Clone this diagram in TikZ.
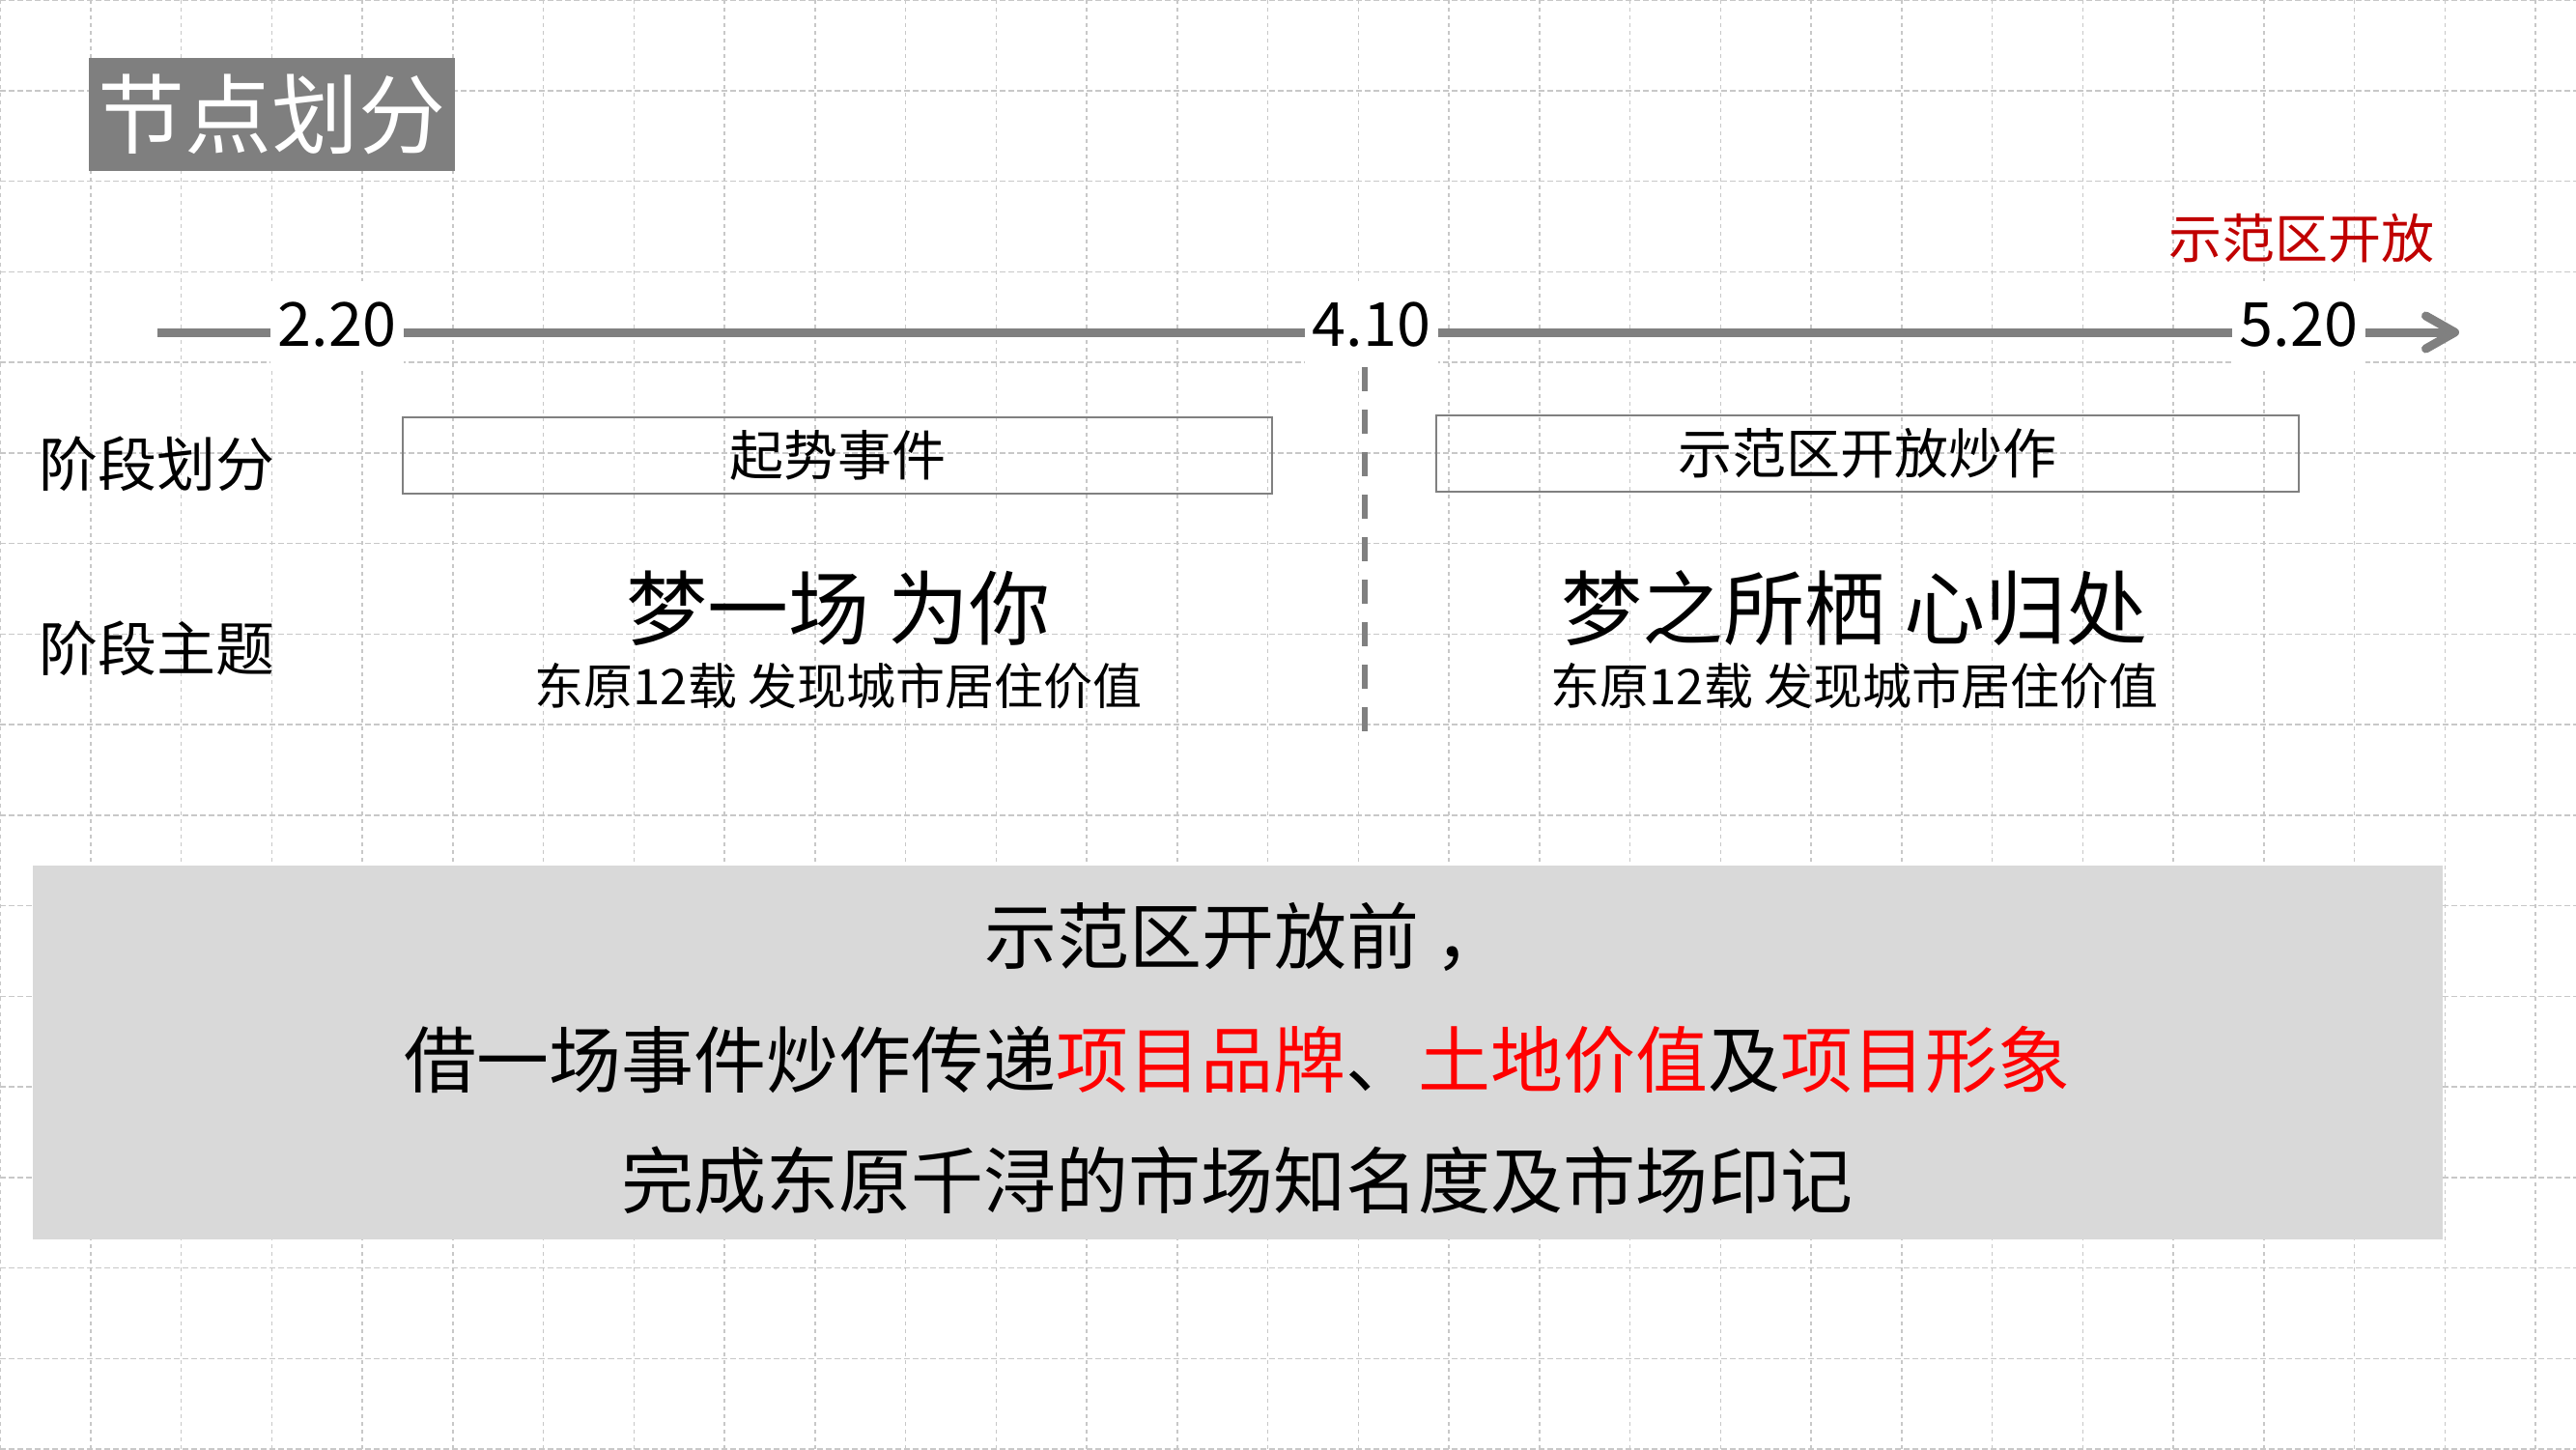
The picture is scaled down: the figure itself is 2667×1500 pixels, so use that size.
\documentclass[tikz,border=0pt]{standalone}
\usepackage{fontspec}
\setmainfont{Noto Sans CJK SC}
\usetikzlibrary{arrows.meta}
\definecolor{gridc}{HTML}{C8C8C8}
\definecolor{linec}{HTML}{808080}
\definecolor{titlebg}{HTML}{7F7F7F}
\definecolor{boxbg}{HTML}{D9D9D9}
\definecolor{darkred}{HTML}{C00000}
\definecolor{brightred}{HTML}{FF0000}
\newcommand\fsz[1]{\fontsize{#1}{#1}\selectfont}
\begin{document}
\begin{tikzpicture}[x=1pt,y=-1pt,
  hgrid/.style={gridc, line width=1.5pt, dash pattern=on 6pt off 3pt},
  vgrid/.style={gridc, line width=1.5pt, dash pattern=on 4pt off 4pt},
  datelabel/.style={fill=white, inner xsep=8pt, inner ysep=22pt, font=\fsz{63}},
  axis/.style={linec, line width=9pt},
  phasebox/.style={draw=linec, line width=2pt, minimum width=#1, minimum height=79pt, inner sep=0pt, font=\fsz{56}},
  rowlabel/.style={anchor=west, inner sep=0pt, font=\fsz{61}},
  themetitle/.style={inner sep=0pt, font=\fsz{84}},
  themesub/.style={inner sep=0pt, font=\fsz{51}},
  summary/.style={inner sep=0pt, font=\fsz{75}}
]
\useasboundingbox (0,0) rectangle (2667,1500);
\fill[white] (0,0) rectangle (2667,1500);
% grid
\foreach \i in {0,...,16} \draw[hgrid] (0,\i*93.75) -- (2667,\i*93.75);
\foreach \i in {0,...,28} \draw[vgrid] (\i*93.75,0) -- (\i*93.75,1500);

% title
\node[fill=titlebg, text=white, minimum width=379pt, minimum height=117pt, inner sep=0pt, font=\fsz{90}] (title) at (281.5,118.5) {节点划分};

% red label
\node[text=darkred, inner sep=0pt, font=\fsz{55}] (open) at (2383,247) {示范区开放};

% timeline
\coordinate (a0) at (163,344);
\coordinate (a1) at (2546,344);
\node[datelabel] (d1) at (349,336) {2.20};
\node[datelabel] (d2) at (1420,336) {4.10};
\node[datelabel] (d3) at (2380,336) {5.20};
\draw[axis] (a0) -- (d1.west |- a0);
\draw[axis] (d1.east |- a0) -- (d2.west |- a0);
\draw[axis] (d2.east |- a0) -- (d3.west |- a0);
\draw[axis, -{Straight Barb[length=30pt,width=34pt,line cap=round,line join=round]}] (d3.east |- a0) -- (a1);

% separator
\coordinate (s0) at (1413,380);
\coordinate (s1) at (1413,757);
\draw[linec, line width=6pt, dash pattern=on 25pt off 19pt] (s0) -- (s1);

% row labels
\node[rowlabel] (l1) at (40,480) {阶段划分};
\node[rowlabel] (l2) at (40,671) {阶段主题};

% phase boxes
\node[phasebox=900pt] (b1) at (867,471.5) {起势事件};
\node[phasebox=893pt] (b2) at (1933.5,469.5) {示范区开放炒作};

% themes
\node[themetitle] (t1) at (868,630) {梦一场 为你};
\node[themesub] (u1) at (868,710) {东原12载 发现城市居住价值};
\node[themetitle] (t2) at (1920,630) {梦之所栖 心归处};
\node[themesub] (u2) at (1920,710) {东原12载 发现城市居住价值};

% summary box
\fill[boxbg] (34,896) rectangle (2529,1283);
\node[summary] (m1) at (1290,970) {示范区开放前\kern17pt，};
\node[summary] (m2) at (1281,1097) {借一场事件炒作传递\textcolor{brightred}{项目品牌}、\textcolor{brightred}{土地价值}及\textcolor{brightred}{项目形象}};
\node[summary] (m3) at (1281,1222) {完成东原千浔的市场知名度及市场印记};
\end{tikzpicture}
\end{document}
